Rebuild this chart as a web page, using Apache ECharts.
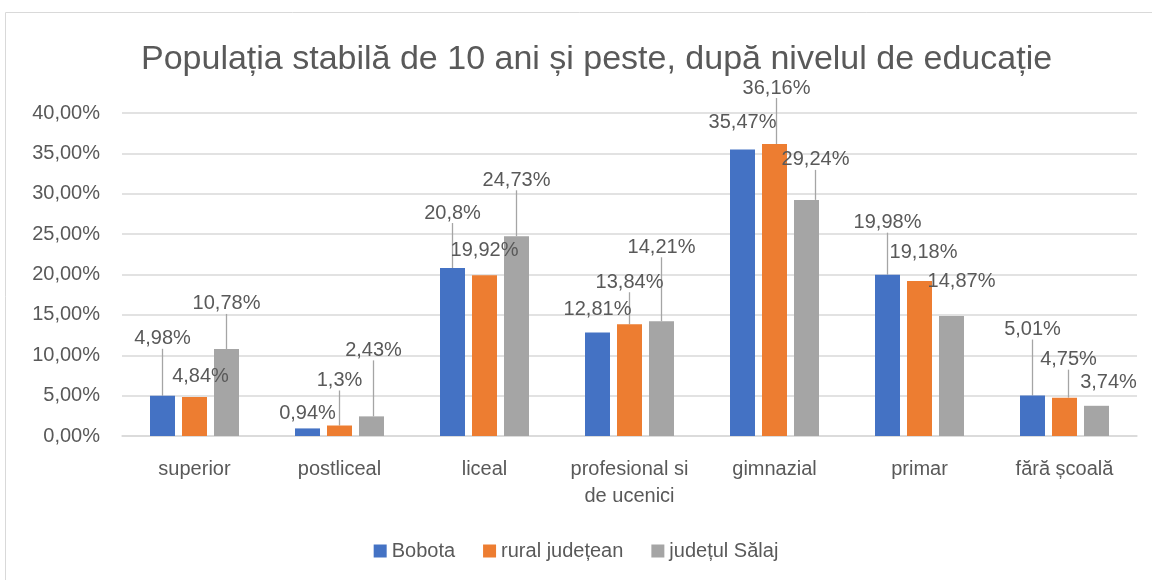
<!DOCTYPE html>
<html>
<head>
<meta charset="utf-8">
<script src="https://cdn.jsdelivr.net/npm/echarts@6/dist/echarts.min.js"></script>
<style>
  html, body { margin: 0; padding: 0; background: #fff; }
  #chart { width: 1152px; height: 580px; }
</style>
</head>
<body>
<div id="chart"></div>
<script>
var categories = ['superior', 'postliceal', 'liceal', 'profesional si\nde ucenici', 'gimnazial', 'primar', 'fără școală'];
var seriesNames = ['Bobota', 'rural județean', 'județul Sălaj'];
var bobota = [4.98, 0.94, 20.8, 12.81, 35.47, 19.98, 5.01];
var ruralJudetean = [4.84, 1.3, 19.92, 13.84, 36.16, 19.18, 4.75];
var judetulSalaj = [10.78, 2.43, 24.73, 14.21, 29.24, 14.87, 3.74];
var colors = ['#4472C4', '#ED7D31', '#A5A5A5'];

// where the labels were dragged to in the original (dx, dy in px)
var labelShift = [
  [[0, -42], [0, 0], [0, -40], [0, -8], [0, -12], [0, -37], [0, -51]],
  [[6, -5], [0, -30], [0, -10], [0, -27], [2, -41], [4, -14], [4, -23]],
  [[0, -30], [2, -51], [0, -41], [0, -59], [9, -25], [10, -19], [12, -8]]
];

var textColor = '#595959';
var font = 'Liberation Sans';

function fmt(v) {
  return String(v).replace('.', ',') + '%';
}

var allValues = [bobota, ruralJudetean, judetulSalaj];

var series = seriesNames.map(function (name, s) {
  return {
    name: name,
    type: 'bar',
    barWidth: 25,
    barGap: '28%',
    itemStyle: { color: colors[s] },
    label: {
      show: true,
      position: 'top',
      distance: 5,
      color: textColor,
      fontFamily: font,
      fontSize: 20,
      formatter: function (p) { return fmt(p.value); }
    },
    labelLine: {
      show: true,
      lineStyle: { color: '#A5A5A5', width: 1.3 }
    },
    labelLayout: function (p) {
      var d = labelShift[p.seriesIndex][p.dataIndex];
      return { dx: d[0], dy: d[1] };
    },
    data: allValues[s].map(function (v, i) {
      return {
        value: v,
        labelLine: { show: Math.abs(labelShift[s][i][1]) > 20 }
      };
    })
  };
});

var chart = echarts.init(document.getElementById('chart'));

var option = {
  animation: false,
  textStyle: { fontFamily: font },
  title: {
    text: 'Populația stabilă de 10 ani și peste, după nivelul de educație',
    left: 136,
    top: 38,
    textStyle: { color: textColor, fontFamily: font, fontSize: 34, fontWeight: 'normal' }
  },
  graphic: [{
    type: 'rect',
    shape: { x: 5.5, y: 12.5, width: 1150, height: 575 },
    style: { fill: null, stroke: '#D9D9D9', lineWidth: 1 },
    silent: true
  }],
  legend: {
    data: seriesNames,
    bottom: 14,
    left: 'center',
    itemWidth: 13,
    itemHeight: 13,
    itemGap: 28,
    icon: 'rect',
    textStyle: { color: textColor, fontFamily: font, fontSize: 20 }
  },
  grid: { left: 122, right: 15, top: 113, bottom: 144 },
  xAxis: {
    type: 'category',
    data: categories,
    axisTick: { show: false },
    axisLine: { lineStyle: { color: '#D9D9D9', width: 1.5 } },
    axisLabel: { interval: 0, color: textColor, fontFamily: font, fontSize: 20, margin: 20, lineHeight: 27 }
  },
  yAxis: {
    type: 'value',
    min: 0,
    max: 40,
    interval: 5,
    axisLine: { show: false },
    axisTick: { show: false },
    splitLine: { lineStyle: { color: '#D9D9D9', width: 1.5 } },
    axisLabel: {
      color: textColor,
      fontFamily: font,
      fontSize: 20,
      margin: 22,
      formatter: function (v) { return v.toFixed(2).replace('.', ',') + '%'; }
    }
  },
  series: series
};

chart.setOption(option);
</script>
</body>
</html>
